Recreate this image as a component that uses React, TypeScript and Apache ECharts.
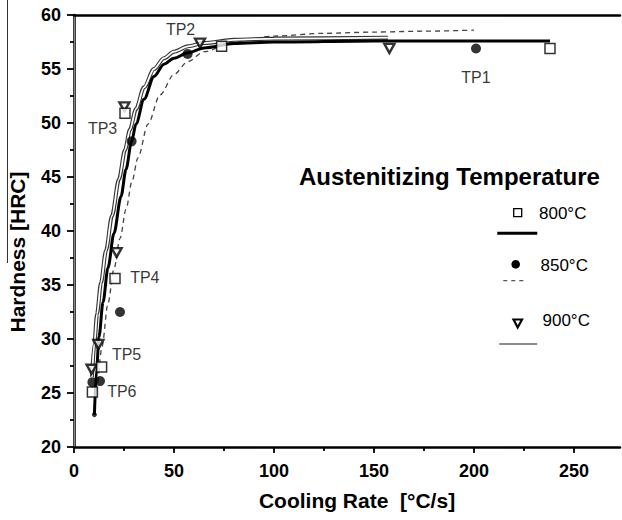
import React, { useEffect, useRef } from "react";
import * as echarts from "echarts";

// Hardness vs. cooling rate for three austenitizing temperatures

const xMajorTicks = [0, 50, 100, 150, 200, 250];
const xMinorTicks = [25, 75, 125, 175, 225];

// measured points [cooling rate °C/s, hardness HRC]
const points800 = [
  [9.2, 25.1], [13.8, 27.4], [20.5, 35.6], [25.5, 50.9], [73.8, 57.1], [238, 56.9],
];
const points850 = [
  [9.2, 26.0], [13.0, 26.1], [23.0, 32.5], [28.8, 48.3], [56.8, 56.4], [201, 56.9],
];
const points900 = [
  [8.8, 27.2], [12.2, 29.5], [21.3, 38.0], [25.2, 51.5], [63.0, 57.4], [157.7, 56.9],
];

// fitted curves
const curve800 = [
  [10.2, 23.0], [11.3, 27.2], [12.5, 30.2], [14.5, 33.4], [17, 36.6], [20, 39.8],
  [23.5, 43.2], [26, 45.7], [28.8, 48.3], [31, 49.9], [35, 52.2], [40, 54.3],
  [45, 55.45], [50, 56.0], [57, 56.5], [65, 56.95], [80, 57.35], [100, 57.5],
  [150, 57.6], [238, 57.6],
];
const curve850 = [
  [12, 26.0], [14, 29.3], [17, 33.3], [20, 36.5], [23, 39.3], [26, 42.0], [29, 44.6],
  [32, 46.8], [37, 49.9], [43, 52.6], [50, 54.5], [57, 55.7], [65, 56.6], [80, 57.5],
  [100, 58.05], [125, 58.3], [150, 58.42], [175, 58.5], [200, 58.6],
];
const curve900 = [
  [9, 26.5], [10.2, 29.6], [11.5, 32.3], [13.5, 35.2], [16, 38.2], [19, 41.4],
  [22.5, 44.8], [25.5, 47.5], [28, 49.4], [31, 51.3], [35, 53.3], [40, 55.0],
  [45, 56.0], [50, 56.6], [57, 57.1], [65, 57.4], [80, 57.7], [100, 57.82], [157, 57.9],
];

// test-point annotations anchored in data coordinates
const testPointLabels = [
  { name: "TP1", value: [201, 54.2] },
  { name: "TP2", value: [53.3, 58.7] },
  { name: "TP3", value: [14.3, 49.5] },
  { name: "TP4", value: [35.4, 35.65] },
  { name: "TP5", value: [26.3, 28.6] },
  { name: "TP6", value: [23.9, 25.15] },
];

const legendTitle = "Austenitizing Temperature";
const legendNames = ["800°C", "850°C", "900°C"];
const xTitle = "Cooling Rate  [°C/s]";
const yTitle = "Hardness [HRC]";

const FONT = "'Liberation Sans', Arial, Helvetica, sans-serif";

export default function App() {
  const ref = useRef<HTMLDivElement>(null);

  useEffect(() => {
    document.body.style.margin = "0";
    if (!ref.current) return;
    const chart = echarts.init(ref.current, undefined, { renderer: "svg" });

    const hiddenAxisParts = {
      axisTick: { show: false },
      axisLabel: { show: false },
      splitLine: { show: false },
    };

    const curveBase = {
      type: "line",
      smooth: 0.3,
      smoothMonotone: "x",
      showSymbol: false,
      silent: true,
    };

    chart.setOption({
      animation: false,
      backgroundColor: "#fff",
      textStyle: { fontFamily: FONT },
      grid: { left: 74, top: 15, width: 546, height: 432 },
      xAxis: [
        {
          type: "value",
          min: 0,
          max: 273,
          interval: 50,
          position: "bottom",
          axisLine: { show: true, lineStyle: { color: "#000", width: 2.5 } },
          axisTick: {
            show: true,
            inside: false,
            length: 6,
            customValues: xMajorTicks,
            lineStyle: { color: "#000", width: 1.8 },
          },
          axisLabel: {
            show: true,
            customValues: xMajorTicks,
            margin: 15,
            color: "#000",
            fontSize: 18,
            fontWeight: "bold",
            fontFamily: FONT,
          },
          splitLine: { show: false },
        },
        {
          type: "value",
          min: 0,
          max: 273,
          position: "bottom",
          axisLine: { show: false },
          axisTick: {
            show: true,
            length: 4,
            customValues: xMinorTicks,
            lineStyle: { color: "#000", width: 1.8 },
          },
          axisLabel: { show: false },
          splitLine: { show: false },
        },
        {
          type: "value",
          min: 0,
          max: 273,
          position: "top",
          axisLine: { show: true, lineStyle: { color: "#000", width: 2.5 } },
          ...hiddenAxisParts,
        },
      ],
      yAxis: [
        {
          type: "value",
          min: 20,
          max: 60,
          interval: 5,
          position: "left",
          axisLine: { show: true, lineStyle: { color: "#000", width: 2.5 } },
          axisTick: { show: true, length: 7, lineStyle: { color: "#000", width: 1.8 } },
          minorTick: {
            show: true,
            splitNumber: 2,
            length: 4,
            lineStyle: { color: "#000", width: 1.8 },
          },
          axisLabel: {
            margin: 13,
            color: "#000",
            fontSize: 18,
            fontWeight: "bold",
            fontFamily: FONT,
          },
          splitLine: { show: false },
        },
        {
          type: "value",
          min: 20,
          max: 60,
          position: "right",
          axisLine: { show: true, lineStyle: { color: "#888", width: 1 } },
          ...hiddenAxisParts,
        },
      ],
      series: [
        {
          ...curveBase,
          data: curve850,
          lineStyle: { color: "#444", width: 1.3, type: [5, 4] },
          z: 2,
        },
        {
          ...curveBase,
          data: curve900,
          lineStyle: { color: "#333", width: 4 },
          z: 3,
        },
        {
          ...curveBase,
          data: curve900,
          lineStyle: { color: "#fff", width: 1.8 },
          z: 3,
        },
        {
          ...curveBase,
          data: curve800,
          lineStyle: { color: "#000", width: 3 },
          z: 4,
        },
        {
          type: "scatter",
          data: [curve800[0]],
          symbol: "circle",
          symbolSize: 5,
          itemStyle: { color: "#000" },
          z: 4,
        },
        {
          type: "scatter",
          data: points900,
          symbol: "triangle",
          symbolRotate: 180,
          symbolSize: [10, 9],
          itemStyle: { color: "#fff", borderColor: "#000", borderWidth: 2.4 },
          z: 5,
        },
        {
          type: "scatter",
          data: points800,
          symbol: "rect",
          symbolSize: 10,
          itemStyle: { color: "#fff", borderColor: "#000", borderWidth: 1.5 },
          z: 5,
        },
        {
          type: "scatter",
          data: points850,
          symbol: "circle",
          symbolSize: 10,
          itemStyle: { color: "#000" },
          z: 6,
        },
        {
          type: "scatter",
          data: testPointLabels,
          symbolSize: 1,
          itemStyle: { color: "rgba(0,0,0,0)" },
          label: {
            show: true,
            position: "inside",
            formatter: "{b}",
            color: "#000",
            textBorderWidth: 0,
            fontSize: 16,
            fontFamily: FONT,
          },
          z: 7,
        },
      ],
      graphic: [
        // axis titles
        {
          type: "text",
          x: 357,
          y: 500,
          style: {
            text: xTitle,
            align: "center",
            verticalAlign: "middle",
            fontSize: 21,
            fontWeight: "bold",
            fontFamily: FONT,
            fill: "#000",
          },
        },
        {
          type: "text",
          x: 17,
          y: 252,
          rotation: Math.PI / 2,
          style: {
            text: yTitle,
            align: "center",
            verticalAlign: "middle",
            fontSize: 21,
            fontWeight: "bold",
            fontFamily: FONT,
            fill: "#000",
          },
        },
        // thin rule along the left margin
        {
          type: "line",
          shape: { x1: 7.5, y1: 0, x2: 7.5, y2: 263 },
          style: { stroke: "#333", lineWidth: 1 },
        },
        // legend block
        {
          type: "text",
          x: 449.5,
          y: 176.5,
          style: {
            text: legendTitle,
            align: "center",
            verticalAlign: "middle",
            fontSize: 24,
            fontWeight: "bold",
            fontFamily: FONT,
            fill: "#000",
          },
        },
        {
          type: "rect",
          shape: { x: 513.7, y: 208.7, width: 8, height: 8 },
          style: { fill: "#fff", stroke: "#000", lineWidth: 1.3 },
        },
        {
          type: "text",
          x: 539,
          y: 213.5,
          style: {
            text: legendNames[0],
            align: "left",
            verticalAlign: "middle",
            fontSize: 17,
            fontFamily: FONT,
            fill: "#000",
          },
        },
        {
          type: "line",
          shape: { x1: 497.3, y1: 233.3, x2: 537.3, y2: 233.3 },
          style: { stroke: "#000", lineWidth: 3 },
        },
        {
          type: "circle",
          shape: { cx: 515.7, cy: 264.3, r: 4.3 },
          style: { fill: "#000" },
        },
        {
          type: "text",
          x: 540.5,
          y: 265,
          style: {
            text: legendNames[1],
            align: "left",
            verticalAlign: "middle",
            fontSize: 17,
            fontFamily: FONT,
            fill: "#000",
          },
        },
        {
          type: "line",
          shape: { x1: 503.3, y1: 280.7, x2: 525, y2: 280.7 },
          style: { stroke: "#555", lineWidth: 1.2, lineDash: [4, 4] },
        },
        {
          type: "polygon",
          shape: { points: [[513.5, 319.5], [522, 319.5], [517.7, 327.5]] },
          style: { fill: "#fff", stroke: "#000", lineWidth: 2.2 },
        },
        {
          type: "text",
          x: 542.5,
          y: 320.7,
          style: {
            text: legendNames[2],
            align: "left",
            verticalAlign: "middle",
            fontSize: 17,
            fontFamily: FONT,
            fill: "#000",
          },
        },
        {
          type: "line",
          shape: { x1: 499.3, y1: 344, x2: 537.3, y2: 344 },
          style: { stroke: "#666", lineWidth: 1.5 },
        },
      ],
    });

    return () => chart.dispose();
  }, []);

  return <div ref={ref} style={{ width: 622, height: 520 }} />;
}
